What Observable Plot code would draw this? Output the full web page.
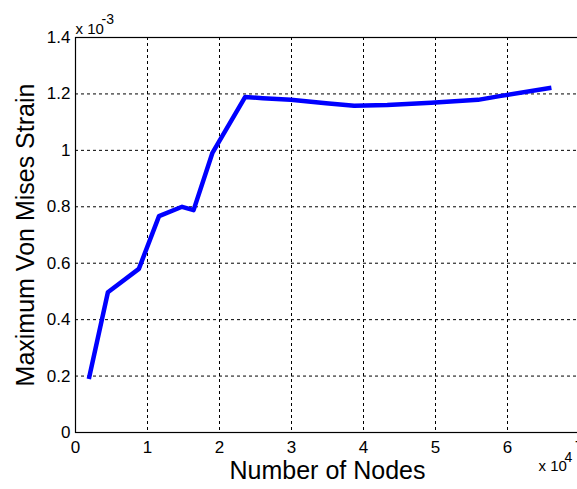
<!DOCTYPE html>
<html>
<head>
<meta charset="utf-8">
<script src="https://cdn.jsdelivr.net/npm/d3@7"></script>
<script src="https://cdn.jsdelivr.net/npm/@observablehq/plot@0.6"></script>
<style>
  html, body { margin: 0; padding: 0; background: #fff; overflow: hidden; }
  svg { display: block; }
</style>
</head>
<body>
<div id="chart"></div>
<script>
// Mesh convergence: maximum von Mises strain against mesh size
const nodes  = [1850, 4500, 8800, 11600, 14800, 16400, 19000, 23550, 26000, 29900, 34800, 38700, 43300, 49400, 55900, 59100, 66100];
const strain = [0.190e-3, 0.497e-3, 0.580e-3, 0.767e-3, 0.800e-3, 0.788e-3, 0.990e-3, 1.189e-3, 1.185e-3, 1.179e-3, 1.167e-3, 1.158e-3, 1.161e-3, 1.169e-3, 1.179e-3, 1.193e-3, 1.222e-3];

const xTicks = [0, 1e4, 2e4, 3e4, 4e4, 5e4, 6e4, 7e4];
const yTicks = [0, 0.2e-3, 0.4e-3, 0.6e-3, 0.8e-3, 1.0e-3, 1.2e-3, 1.4e-3];

const xTitle = "Number of Nodes";
const yTitle = "Maximum Von Mises Strain";

const data = nodes.map((n, i) => ({nodes: n, strain: strain[i]}));

const font = "'Liberation Sans', Arial, sans-serif";
const fmtX = d => String(+(d / 1e4).toFixed(1));
const fmtY = d => String(+(d * 1e3).toFixed(1));

const chart = Plot.plot({
  width: 577,
  height: 489,
  marginLeft: 75,
  marginRight: -2,
  marginTop: 37,
  marginBottom: 57,
  style: {fontFamily: font, background: "#fff", color: "#000"},
  x: {domain: [0, 7e4]},
  y: {domain: [0, 1.4e-3]},
  marks: [
    Plot.gridX(xTicks, {stroke: "#000", strokeOpacity: 1, strokeWidth: 1, strokeDasharray: "3,3"}),
    Plot.gridY(yTicks, {stroke: "#000", strokeOpacity: 1, strokeWidth: 1, strokeDasharray: "3,3"}),
    Plot.frame({stroke: "#000", strokeWidth: 1.2}),
    Plot.axisX(xTicks, {tickSize: 0, tickPadding: 8, tickFormat: fmtX, fontSize: 17, label: null}),
    Plot.axisY(yTicks, {tickSize: 0, tickPadding: 5, tickFormat: fmtY, fontSize: 17, label: null}),
    Plot.line(data, {x: "nodes", y: "strain", stroke: "#0000ff", strokeWidth: 4.5, strokeLinejoin: "round", strokeLinecap: "butt"}),
    // axis titles
    Plot.text([xTitle], {frameAnchor: "bottom", textAnchor: "middle", lineAnchor: "middle", dy: 38, fontSize: 25, fill: "#000"}),
    Plot.text([yTitle], {frameAnchor: "left", textAnchor: "middle", lineAnchor: "middle", dx: -50, rotate: -90, fontSize: 25, fill: "#000"}),
    // scale multipliers
    Plot.text(["x 10"], {frameAnchor: "top-left", dx: 0, dy: -14, textAnchor: "start", fontSize: 15, fill: "#000"}),
    Plot.text(["-3"], {frameAnchor: "top-left", dx: 26, dy: -23, textAnchor: "start", fontSize: 14, fill: "#000"}),
    Plot.text(["x 10"], {frameAnchor: "bottom-right", dx: -41, dy: 38, textAnchor: "start", fontSize: 15, fill: "#000"}),
    Plot.text(["4"], {frameAnchor: "bottom-right", dx: -15, dy: 29, textAnchor: "start", fontSize: 14, fill: "#000"})
  ]
});

document.getElementById("chart").append(chart);
</script>
</body>
</html>
